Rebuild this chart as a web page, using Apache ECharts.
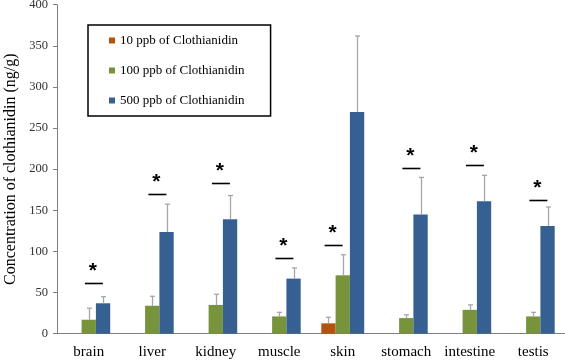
<!DOCTYPE html>
<html>
<head>
<meta charset="utf-8">
<script src="https://cdn.jsdelivr.net/npm/echarts@6/dist/echarts.min.js"></script>
<style>html,body{margin:0;padding:0;background:#fff}#c{width:565px;height:360px}</style>
</head>
<body>
<div id="c"></div>
<script>
var categories = ['brain','liver','kidney','muscle','skin','stomach','intestine','testis'];
var seriesNames = ['10 ppb of Clothianidin','100 ppb of Clothianidin','500 ppb of Clothianidin'];
var ppb10 = [null,null,null,null,12.6,null,null,null];
var ppb10Sd = [null,null,null,null,7.4,null,null,null];
var ppb100 = [17,34,35,21,71,19,29,21];
var ppb100Sd = [14,11.5,13,5,25,4,6,5];
var ppb500 = [37,123.5,139,67,269.5,145,161,131];
var ppb500Sd = [8,34,29,13,92.5,45,31.5,23];
// significance bar level and the left member of the compared pair (series index)
var sigLevel = [62,170,183,92,108,202,205,162];
var sigLeft = [1,1,1,1,0,1,1,1];
var yTicks = {min:0, max:400, interval:50};

var BAR_W = 14.3;
var colors = ['#B4520F','#77933C','#366092'];
var serif = 'Liberation Serif';

var means = [ppb10, ppb100, ppb500];
var sds = [ppb10Sd, ppb100Sd, ppb500Sd];

var series = [];
means.forEach(function(arr, k){
  series.push({
    name: seriesNames[k], type:'bar', data: arr, barWidth: BAR_W, barGap: '0%',
    itemStyle:{color:colors[k]}, z:2
  });
});
means.forEach(function(arr, k){
  var d = [];
  arr.forEach(function(v,i){ if(v!=null) d.push([i, v, v + sds[k][i]]); });
  series.push({
    type:'custom', data:d, z:3, silent:true,
    renderItem:function(params, api){
      var lo = api.coord([api.value(0), api.value(1)]);
      var hi = api.coord([api.value(0), api.value(2)]);
      var x = Math.round(lo[0] + (k-1)*BAR_W) + 0.5;
      var st = {stroke:'#A6A6A6', lineWidth:1.3};
      return {type:'group', children:[
        {type:'line', shape:{x1:x,y1:lo[1],x2:x,y2:hi[1]}, style:st},
        {type:'line', shape:{x1:x-2.5,y1:hi[1],x2:x+2.5,y2:hi[1]}, style:st}
      ]};
    }
  });
});
var sigData = sigLevel.map(function(v,i){ return [i, v, sigLeft[i]]; });
series.push({
  type:'custom', data:sigData, z:4, silent:true,
  renderItem:function(params, api){
    var p = api.coord([api.value(0), api.value(1)]);
    var left = api.value(2);
    var cx = p[0] + (left - 0.5)*BAR_W - 2;
    var y = Math.round(p[1]) + 0.5;
    return {type:'group', children:[
      {type:'line', shape:{x1:cx-9,y1:y,x2:cx+9,y2:y}, style:{stroke:'#000', lineWidth:1.6}},
      {type:'text', x:cx-1, y:y-12, style:{text:'*', fill:'#000', font:'bold 21px "Liberation Sans"', align:'center', verticalAlign:'middle'}}
    ]};
  }
});

var chart = echarts.init(document.getElementById('c'), null, {renderer:'canvas'});
chart.setOption({
  animation:false,
  textStyle:{fontFamily:serif},
  grid:{left:57, right:0, top:4.7, bottom:26.3, containLabel:false, outerBoundsMode:'none'},
  legend:{
    data:seriesNames, orient:'vertical', left:88, top:25,
    itemWidth:6, itemHeight:6, itemGap:17, icon:'rect',
    padding:[9,26,9,21], borderColor:'#000', borderWidth:1.5,
    textStyle:{fontFamily:serif, fontSize:13, color:'#000'}
  },
  xAxis:{
    type:'category', data:categories,
    axisLine:{lineStyle:{color:'#7F7F7F', width:1}},
    axisTick:{show:false},
    axisLabel:{fontFamily:serif, fontSize:15, color:'#000', margin:11, interval:0}
  },
  yAxis:{
    type:'value', min:yTicks.min, max:yTicks.max, interval:yTicks.interval,
    name:'Concentration of clothianidin (ng/g)', nameLocation:'middle', nameGap:36,
    nameTextStyle:{fontFamily:serif, fontSize:16, color:'#000'},
    axisLine:{show:true, lineStyle:{color:'#7F7F7F', width:1}},
    axisTick:{show:true, length:4, lineStyle:{color:'#7F7F7F'}},
    splitLine:{show:false},
    axisLabel:{fontFamily:serif, fontSize:12.5, color:'#333', margin:9}
  },
  series:series
});
</script>
</body>
</html>
